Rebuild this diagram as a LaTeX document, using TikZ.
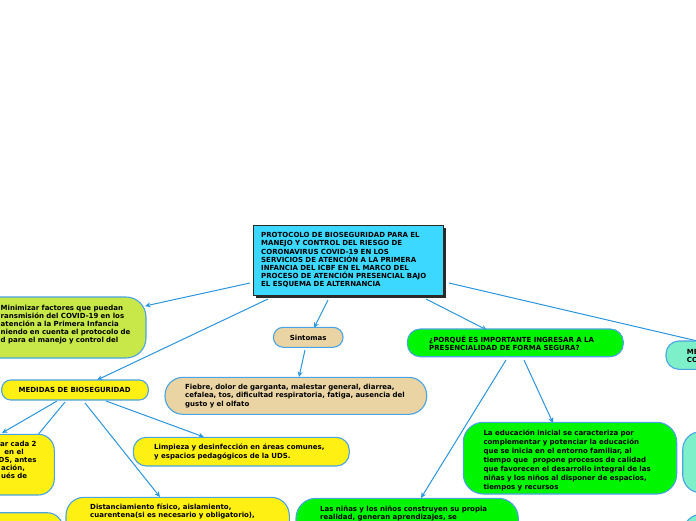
\documentclass[tikz,border=0pt]{standalone}
\usepackage{fontspec}
\setmainfont{DejaVu Sans}
\usetikzlibrary{arrows.meta}
\definecolor{cyanbox}{HTML}{3DD8FF}
\definecolor{limebox}{HTML}{C8E84A}
\definecolor{tanbox}{HTML}{EAD4A3}
\definecolor{yelbox}{HTML}{FFF014}
\definecolor{grnbox}{HTML}{00F500}
\definecolor{tealbox}{HTML}{7DF0C9}
\definecolor{bord}{HTML}{4AA3E3}
\definecolor{linec}{HTML}{2B95DB}
\definecolor{shadowc}{HTML}{2A2A2A}
\tikzset{
  shapebox/.style={rectangle, draw=bord, line width=1.1pt, inner sep=0pt},
  txt/.style={align=left, text width=300pt, inner sep=0pt, anchor=base west, text=black},
  ctxt/.style={inner sep=0pt, anchor=base, text=black, font=\fontsize{7}{8}\selectfont\bfseries},
  conn/.style={draw=linec, line width=1pt, -{Stealth[length=5.5pt,width=5pt]}},
  plain/.style={draw=linec, line width=1pt}
}
\newcommand{\fs}[1]{\fontsize{7}{#1}\selectfont\bfseries}
\begin{document}
\begin{tikzpicture}[x=1pt,y=-1pt]
\useasboundingbox (0,0) rectangle (696,520);
\clip (0,0) rectangle (696,520);
\fill[white] (0,0) rectangle (696,520);

% connector end points
\coordinate (a1) at (250,283);  \coordinate (b1) at (145,306);
\coordinate (a2) at (268,299);  \coordinate (b2) at (97,380);
\coordinate (a3) at (328,300);  \coordinate (b3) at (314,328);
\coordinate (a4) at (426,299);  \coordinate (b4) at (487,330);
\coordinate (a5) at (449,283);  \coordinate (b5) at (706,343);
\coordinate (a6) at (305,350);  \coordinate (b6) at (299,377);
\coordinate (a7) at (57,401);   \coordinate (b7) at (2,433);
\coordinate (a8) at (65,402);   \coordinate (b8) at (-30,517);
\coordinate (a9) at (106,401);  \coordinate (b9) at (204,437);
\coordinate (a10) at (85,403);  \coordinate (b10) at (160,497);
\coordinate (a11) at (506,360); \coordinate (b11) at (421,498);
\coordinate (a12) at (524,360); \coordinate (b12) at (553,423);

\draw[conn] (a1) -- (b1);
\draw[conn] (a2) -- (b2);
\draw[conn] (a3) -- (b3);
\draw[conn] (a4) -- (b4);
\draw[conn] (a5) -- (b5);
\draw[conn] (a6) -- (b6);
\draw[conn] (a7) -- (b7);
\draw[conn] (a8) -- (b8);
\draw[conn] (a9) -- (b9);
\draw[conn] (a10) -- (b10);
\draw[conn] (a11) -- (b11);
\draw[conn] (a12) -- (b12);

% central box
\fill[shadowc] (256,228) rectangle (446,298);
\node[rectangle, draw=shadowc, line width=0.8pt, fill=cyanbox, minimum width=190pt, minimum height=70pt, inner sep=0pt] (central) at (348,260) {};
\node[txt, font=\fs{8.2}] (centralt) at (261,237.7) {PROTOCOLO DE BIOSEGURIDAD PARA EL\\MANEJO Y CONTROL DEL RIESGO DE\\CORONAVIRUS COVID-19 EN LOS\\SERVICIOS DE ATENCIÓN A LA PRIMERA\\INFANCIA DEL ICBF EN EL MARCO DEL\\PROCESO DE ATENCIÓN PRESENCIAL BAJO\\EL ESQUEMA DE ALTERNANCIA};

% lime
\node[shapebox, fill=limebox, rounded corners=20pt, minimum width=186pt, minimum height=61pt] (lime) at (53,327.5) {};
\node[txt, font=\fs{8}] (limet) at (0.5,310.5) {Minimizar factores que puedan\\ransmisión del COVID-19 en los\\atención a la Primera Infancia\\niendo en cuenta el protocolo de\\d para el manejo y control del};

% sintomas
\node[shapebox, fill=tanbox, rounded corners=10pt, minimum width=69.7pt, minimum height=20pt] (sint) at (308.2,337.3) {};
\node[ctxt] (sintt) at (308.2,340.5) {Sintomas};

\node[shapebox, fill=tanbox, rounded corners=18pt, minimum width=261.7pt, minimum height=37pt] (desc) at (295.85,395.8) {};
\node[txt, font=\fs{8.7}] (desct) at (185,389) {Fiebre, dolor de garganta, malestar general, diarrea,\\cefalea, tos, dificultad respiratoria, fatiga, ausencia del\\gusto y el olfato};

% medidas
\node[shapebox, fill=yelbox, rounded corners=9pt, minimum width=146.6pt, minimum height=20pt] (med) at (75,390) {};
\node[ctxt] (medt) at (74.7,392.7) {MEDIDAS DE BIOSEGURIDAD};

\node[shapebox, fill=yelbox, rounded corners=16pt, minimum width=94.3pt, minimum height=60.7pt] (lefty) at (7.15,464.65) {};
\node[txt, font=\fs{8}] (leftyt) at (0,446.7) {ar cada 2\\\hspace*{4.3pt}en el\\\hspace*{-1.5pt}DS, antes\\\hspace*{1pt}ación,\\\hspace*{1pt}ués de};

\node[shapebox, fill=yelbox, rounded corners=13pt, minimum width=216pt, minimum height=28.7pt] (limp) at (241.3,451.65) {};
\node[txt, font=\fs{9.3}] (limpt) at (154,449) {Limpieza y desinfección en áreas comunes,\\y espacios pedagógicos de la UDS.};

\node[shapebox, fill=yelbox, rounded corners=18pt, minimum width=223.3pt, minimum height=62.7pt] (dist) at (177.65,528.65) {};
\node[txt, font=\fs{8.4}] (distt) at (90,509) {Distanciamiento físico, aislamiento,\\cuarentena(si es necesario y obligatorio),};

\node[shapebox, fill=yelbox, rounded corners=16pt, minimum width=103pt, minimum height=57.3pt] (bly) at (11.5,541.35) {};

% porque
\node[shapebox, fill=grnbox, rounded corners=13pt, minimum width=216pt, minimum height=27.7pt] (porq) at (515.3,342.85) {};
\node[txt, font=\fs{8.1}] (porqt) at (429,342) {¿PORQUÉ ES IMPORTANTE INGRESAR A LA\\PRESENCIALIDAD DE FORMA SEGURA?};

\node[shapebox, fill=grnbox, rounded corners=20pt, minimum width=213.4pt, minimum height=71.7pt] (edu) at (570,458.15) {};
\node[txt, font=\fs{8.9}] (edut) at (483.3,435.7) {La educación inicial se caracteriza por\\complementar y potenciar la educación\\que se inicia en el entorno familiar, al\\tiempo que \ propone procesos de calidad\\que favorecen el desarrollo integral de las\\niñas y los niños al disponer de espacios,\\tiempos y recursos};

\node[shapebox, fill=grnbox, rounded corners=20pt, minimum width=222.3pt, minimum height=71.7pt] (ninas) at (407.15,534.15) {};
\node[txt, font=\fs{8.8}] (ninast) at (320,511) {Las niñas y los niños construyen su propia\\realidad, generan aprendizajes, se};

% teal
\node[shapebox, fill=tealbox, rounded corners=13pt, minimum width=94pt, minimum height=28.3pt] (teal1) at (713,355.15) {};
\node[txt, font=\fs{8.3}] (teal1t) at (686.7,354) {ME\\CO};
\node[shapebox, fill=tealbox, rounded corners=18pt, minimum width=97.3pt, minimum height=61pt] (teal2) at (731.35,462.2) {};
\node[shapebox, fill=tealbox, rounded corners=18pt, minimum width=96.7pt, minimum height=65.7pt] (teal3) at (731.65,547.15) {};
\end{tikzpicture}
\end{document}
